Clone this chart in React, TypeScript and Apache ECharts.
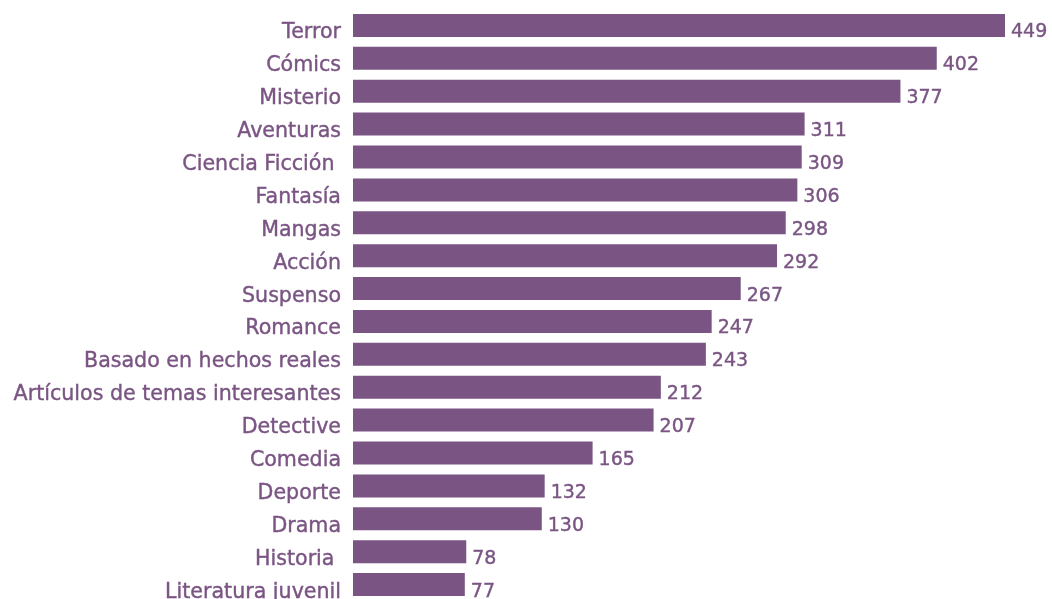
import React, { useEffect, useRef } from "react";
import * as echarts from "echarts";

const categories = [
  "Terror",
  "Cómics",
  "Misterio",
  "Aventuras",
  "Ciencia Ficción ",
  "Fantasía",
  "Mangas",
  "Acción",
  "Suspenso",
  "Romance",
  "Basado en hechos reales",
  "Artículos de temas interesantes",
  "Detective",
  "Comedia",
  "Deporte",
  "Drama",
  "Historia ",
  "Literatura juvenil",
];
const values = [449, 402, 377, 311, 309, 306, 298, 292, 267, 247, 243, 212, 207, 165, 132, 130, 78, 77];

const COLOR = "#7a5583";
const FONT = "DejaVu Sans";

export default function App() {
  const ref = useRef<HTMLDivElement>(null);
  useEffect(() => {
    document.body.style.margin = "0";
    document.body.style.overflow = "hidden";
    const chart = echarts.init(ref.current!, null, { renderer: "svg" });
    chart.setOption({
      animation: false,
      grid: { left: 353, top: 9, width: 652, height: 592, containLabel: false },
      xAxis: {
        type: "value",
        min: 0,
        max: 449,
        show: false,
      },
      yAxis: {
        type: "category",
        data: categories,
        inverse: true,
        axisLine: { show: false },
        axisTick: { show: false },
        splitLine: { show: false },
        axisLabel: {
          margin: 12,
          formatter: "{a|{value}}",
          rich: {
            a: {
              color: COLOR,
              fontSize: 20.6,
              fontFamily: FONT,
              padding: [12, 0, 0, 0],
              textBorderColor: COLOR,
              textBorderWidth: 0.4,
            },
          },
        },
      },
      series: [
        {
          type: "bar",
          data: values,
          barWidth: 23,
          itemStyle: { color: COLOR },
          label: {
            show: true,
            position: "right",
            distance: 6,
            offset: [0, 5],
            color: COLOR,
            fontSize: 19,
            fontFamily: FONT,
            textBorderColor: COLOR,
            textBorderWidth: 0.4,
          },
        },
      ],
    });
    return () => chart.dispose();
  }, []);
  return (
    <div
      ref={ref}
      style={{ position: "fixed", left: 0, top: 0, width: 1052, height: 602 }}
    />
  );
}
